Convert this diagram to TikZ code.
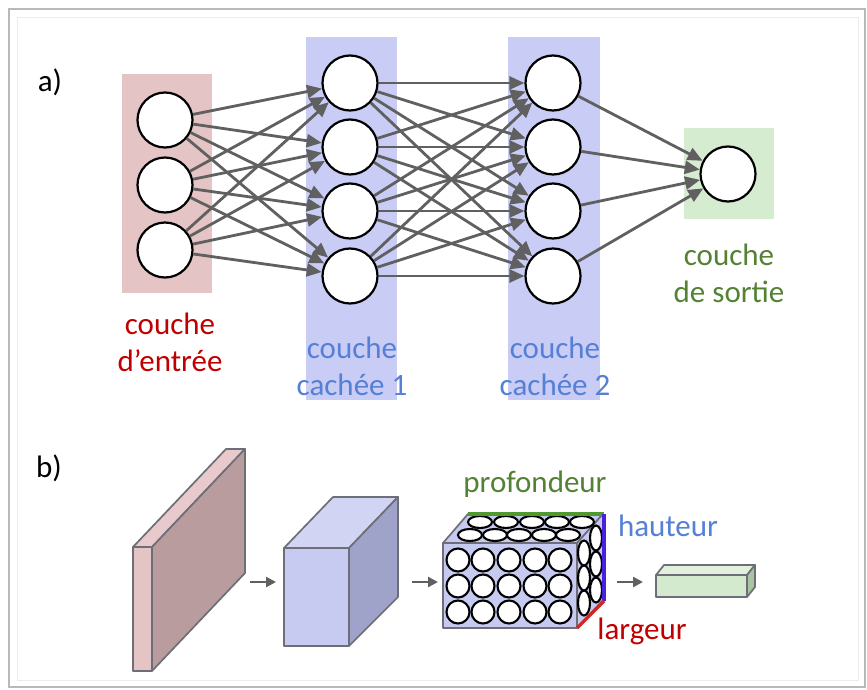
\documentclass[tikz,border=0pt]{standalone}
\usepackage{fontspec}
\setmainfont{Carlito}
\usetikzlibrary{arrows.meta}
\definecolor{pinkL}{HTML}{E5C4C6}
\definecolor{pinkTop}{HTML}{E8CACC}
\definecolor{pinkSide}{HTML}{B99C9E}
\definecolor{blueL}{HTML}{C9CCF5}
\definecolor{cubeTop}{HTML}{D2D4F4}
\definecolor{cubeSide}{HTML}{9FA3C9}
\definecolor{cubeFront}{HTML}{C8CBF1}
\definecolor{volFill}{HTML}{C7CAF0}
\definecolor{greenL}{HTML}{D6ECD1}
\definecolor{barTop}{HTML}{E2F1DC}
\definecolor{barSide}{HTML}{A9C3A3}
\definecolor{barFront}{HTML}{D4EACE}
\definecolor{redT}{HTML}{C00000}
\definecolor{blueT}{HTML}{5580D6}
\definecolor{greenT}{HTML}{548235}
\definecolor{lineG}{HTML}{4E9A2E}
\definecolor{lineB}{HTML}{4A1FE0}
\definecolor{lineR}{HTML}{D42424}
\definecolor{conn}{HTML}{606060}
\definecolor{edgeG}{HTML}{6E6E78}
\tikzset{
  neuron/.style={circle,draw=black,line width=2.2pt,fill=white,minimum size=55pt,inner sep=0pt},
  connector/.style={draw=conn,line width=2.8pt,-{Triangle[length=15pt,width=13pt]}},
  lbl/.style={font=\fontsize{31}{37}\selectfont,align=center,inner sep=0pt},
  cell/.style={draw=black,line width=2.1pt,fill=white},
  faceedge/.style={draw=edgeG,line width=1.7pt,line join=round},
  flowarrow/.style={draw=conn,line width=2.4pt,-{Triangle[length=10pt,width=10pt]}}
}
\begin{document}
\begin{tikzpicture}[x=1pt,y=-1pt]
\useasboundingbox (0,0) rectangle (867,690);
\fill[white] (0,0) rectangle (867,690);
% frame
\draw[gray!55,line width=1.6pt] (9,9) rectangle (865,687);
\draw[gray!15,line width=1pt] (17,18) rectangle (858,680);

% ---------- a) ----------
\node[lbl,anchor=center] (la) at (50,82) {a)};
\fill[pinkL] (122,74) rectangle (212,293);
\fill[blueL] (306,37) rectangle (397,400);
\fill[blueL] (508,37) rectangle (600,400);
\fill[greenL] (684,128) rectangle (774,219);

\node[neuron] (i1) at (165,120) {};
\node[neuron] (i2) at (165,185) {};
\node[neuron] (i3) at (165,250) {};
\node[neuron] (h1) at (350,83) {};
\node[neuron] (h2) at (350,147) {};
\node[neuron] (h3) at (350,211) {};
\node[neuron] (h4) at (350,276) {};
\node[neuron] (g1) at (553,83) {};
\node[neuron] (g2) at (553,147) {};
\node[neuron] (g3) at (553,211) {};
\node[neuron] (g4) at (553,276) {};
\node[neuron] (o) at (728,174) {};

\foreach \a in {i1,i2,i3}{\foreach \b in {h1,h2,h3,h4}{\draw[connector] (\a) -- (\b);}}
\foreach \a in {h1,h2,h3,h4}{\foreach \b in {g1,g2,g3,g4}{\draw[connector] (\a) -- (\b);}}
\foreach \a in {g1,g2,g3,g4}{\draw[connector] (\a) -- (o);}

\node[lbl,text=redT] (t1) at (170,342) {couche\\d’entrée};
\node[lbl,text=blueT] (t2) at (352,366) {couche\\cachée 1};
\node[lbl,text=blueT] (t3) at (555,366) {couche\\cachée 2};
\node[lbl,text=greenT] (t4) at (729,273) {couche\\de sortie};

% ---------- b) ----------
\node[lbl,anchor=center] (lb) at (49,468) {b)};

% pink slab
\filldraw[fill=pinkTop,faceedge] (133,547) -- (152,547) -- (245,449) -- (226,449) -- cycle;
\filldraw[fill=pinkSide,faceedge] (152,547) -- (245,449) -- (245,573) -- (152,671) -- cycle;
\filldraw[fill=pinkL,faceedge] (133,547) rectangle (152,671);

% blue cube
\filldraw[fill=cubeTop,faceedge] (284,548) -- (349,548) -- (398,497) -- (333,497) -- cycle;
\filldraw[fill=cubeSide,faceedge] (349,548) -- (398,497) -- (398,597) -- (349,646) -- cycle;
\filldraw[fill=cubeFront,faceedge] (284,548) rectangle (349,646);

\coordinate (a1s) at (250,582); \coordinate (a1e) at (276,582);
\coordinate (a2s) at (412,582); \coordinate (a2e) at (438,582);
\coordinate (a3s) at (617,582); \coordinate (a3e) at (643,582);
\draw[flowarrow] (a1s) -- (a1e);
\draw[flowarrow] (a2s) -- (a2e);
\draw[flowarrow] (a3s) -- (a3e);

% conv volume
\filldraw[fill=volFill,faceedge] (443,543) -- (577,543) -- (603,514) -- (468,514) -- cycle;
\filldraw[fill=volFill,faceedge] (577,543) -- (603,514) -- (603,600) -- (577,628) -- cycle;
\filldraw[fill=volFill,faceedge] (443,543) rectangle (577,628);
\foreach \x in {458,483,509,535,560}{\foreach \y in {560,586,612}{\draw[cell] (\x,\y) circle (11.5);}}
\foreach \x in {480,506,532,557,582}{\draw[cell] (\x,522) ellipse (12 and 6);}
\foreach \x in {470,495,519,544,568}{\draw[cell] (\x,535) ellipse (12 and 6);}
\foreach \y in {538,564,590}{\draw[cell] (596,\y) ellipse (6 and 12.5);}
\foreach \y in {553,578,603}{\draw[cell] (584,\y) ellipse (6 and 12.5);}
\draw[lineG,line width=3.2pt] (468,514) -- (604,514);
\draw[lineB,line width=3.2pt] (604,514) -- (604,601);
\draw[lineR,line width=3.2pt] (577,628) -- (604,601);

% green bar
\filldraw[fill=barTop,faceedge] (656,575) -- (747,575) -- (755,565) -- (664,565) -- cycle;
\filldraw[fill=barSide,faceedge] (747,575) -- (755,565) -- (755,587) -- (747,597) -- cycle;
\filldraw[fill=barFront,faceedge] (656,575) rectangle (747,597);

\node[lbl,text=greenT] (tp) at (535,484) {profondeur};
\node[lbl,text=blueT] (th) at (668,526) {hauteur};
\node[lbl,text=redT] (tl) at (642,631) {largeur};
\end{tikzpicture}
\end{document}
